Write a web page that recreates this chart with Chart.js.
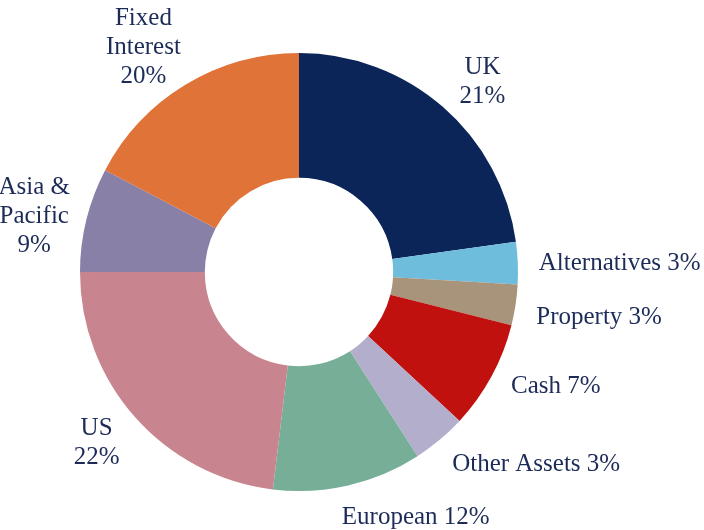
<!DOCTYPE html>
<html>
<head>
<meta charset="utf-8">
<script src="https://cdn.jsdelivr.net/npm/chart.js@4"></script>
<style>
  html, body { margin: 0; padding: 0; background: #fff; }
  #chart { display: block; }
</style>
</head>
<body>
<canvas id="chart" width="704" height="530"></canvas>
<script>
// slices, clockwise from 12 o'clock
const categories = ["UK", "Alternatives", "Property", "Cash", "Other Assets", "European", "US", "Asia & Pacific", "Fixed Interest"];
// slice sizes (percent)
const values = [22.8, 3.1, 3.0, 8.0, 4.0, 11.0, 23.1, 7.7, 17.3];
// the percentages printed in the labels
const shownPct = ["21%", "3%", "3%", "7%", "3%", "12%", "22%", "9%", "20%"];
// how each label is broken into lines
const labelLines = [
    ["UK", "21%"],
    ["Alternatives 3%"],
    ["Property 3%"],
    ["Cash 7%"],
    ["Other Assets 3%"],
    ["European 12%"],
    ["US", "22%"],
    ["Asia &", "Pacific", "9%"],
    ["Fixed", "Interest", "20%"]
];
const colors = ["#0b2559", "#6fbddc", "#a8937b", "#c0110f", "#b3aecc", "#76ae98", "#c8858f", "#8880a6", "#e07337"];

// small hand nudges so labels sit where the original put them
const labelNudge = [[3, -9], [0, 1], [0, 9], [1, 0], [-1, 8], [-11, 12], [0, 12], [4, 2], [6, -19]];

const textColor = "#1c2b58";
const fontSpec = "25px 'Liberation Serif', 'DejaVu Serif', serif";
const lineH = 29;

const outsideLabels = {
    id: "outsideLabels",
    afterDraw(chart) {
        const ctx = chart.ctx;
        const arcs = chart.getDatasetMeta(0).data;
        ctx.save();
        ctx.font = fontSpec;
        ctx.fillStyle = textColor;
        ctx.textBaseline = "middle";
        arcs.forEach((arc, i) => {
            const p = arc.getProps(["x", "y", "startAngle", "endAngle", "outerRadius"], true);
            const mid = (p.startAngle + p.endAngle) / 2;
            const r = p.outerRadius + 21;
            const ax = p.x + Math.cos(mid) * r + labelNudge[i][0];
            const ay = p.y + Math.sin(mid) * r + labelNudge[i][1];
            const lines = labelLines[i];
            const w = Math.max(...lines.map(l => ctx.measureText(l).width));
            let left;
            if (Math.cos(mid) >= 0) left = ax;
            else left = ax - w;
            const top = ay - (lines.length * lineH) / 2;
            ctx.textAlign = "center";
            lines.forEach((l, k) => {
                ctx.fillText(l, left + w / 2, top + lineH * k + lineH / 2);
            });
        });
        ctx.restore();
    }
};

new Chart(document.getElementById("chart"), {
    type: "doughnut",
    data: {
        labels: categories,
        datasets: [{
            data: values,
            backgroundColor: colors,
            borderWidth: 0
        }]
    },
    options: {
        responsive: false,
        animation: false,
        cutout: "43%",
        layout: { padding: { left: 80, right: 186, top: 53, bottom: 39 } },
        plugins: {
            legend: { display: false },
            tooltip: { enabled: false }
        }
    },
    plugins: [outsideLabels]
});
</script>
</body>
</html>
